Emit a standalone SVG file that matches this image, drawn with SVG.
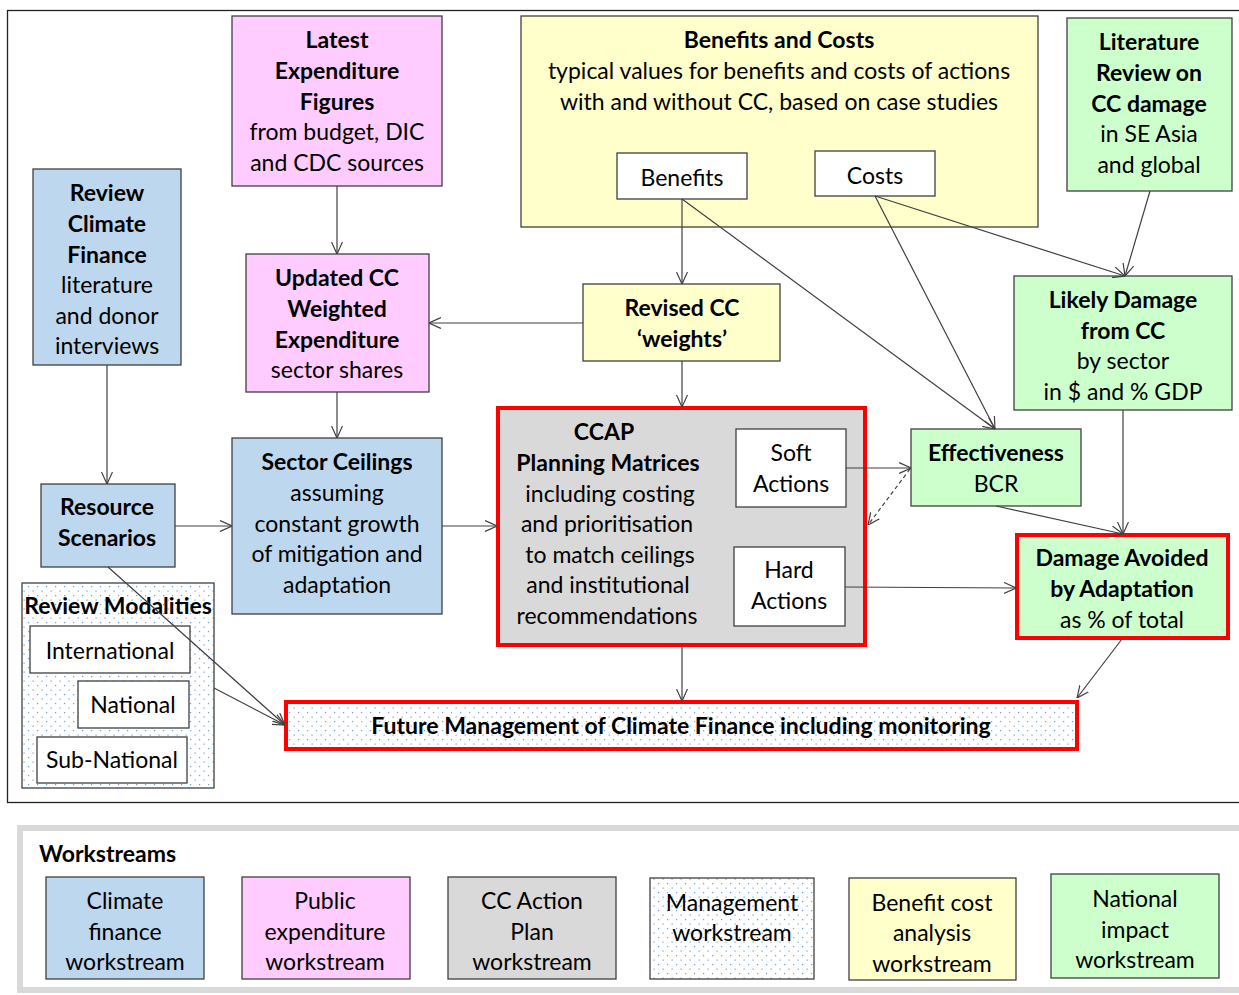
<svg xmlns="http://www.w3.org/2000/svg" width="1239" height="995" viewBox="0 0 1239 995">
<style>
text{font-family:Lato,"Liberation Sans",sans-serif;font-size:23px;fill:#000;text-anchor:middle}
.b{font-weight:bold}
.box{stroke:#404040;stroke-width:1.3}
.pink{fill:#ffccff}.yel{fill:#ffffcc}.grn{fill:#ccffcc}.blu{fill:#bdd7ee}.gry{fill:#d9d9d9}.wht{fill:#fff}.dot{fill:url(#dots)}
.red{stroke:#ff0000;stroke-width:4}
.c{stroke:#404040;stroke-width:1.2;fill:none;marker-end:url(#ah)}
.d{stroke-dasharray:4 3}
</style>
<defs>
<pattern id="dots" width="9" height="9" patternUnits="userSpaceOnUse">
<rect width="9" height="9" fill="#fff"/>
<rect x="1" y="1" width="1.2" height="1.2" fill="#6fa0d8"/>
<rect x="5.5" y="5.5" width="1.2" height="1.2" fill="#6fa0d8"/>
</pattern>
<marker id="ah" viewBox="0 0 12 12" refX="12" refY="6" markerWidth="12" markerHeight="12" markerUnits="userSpaceOnUse" orient="auto">
<path d="M0,0.5 L12,6 L0,11.5" fill="none" stroke="#404040" stroke-width="1.2"/>
</marker>
</defs>
<rect width="1239" height="995" fill="#fff"/>
<rect x="7.5" y="10.5" width="1240" height="792" fill="none" stroke="#222" stroke-width="1.3"/>

<g id="latest">
<rect class="box pink" x="232" y="16" width="210" height="170"/>
<text x="337" y="48" class="b">Latest</text>
<text x="337" y="79" class="b">Expenditure</text>
<text x="337" y="110" class="b">Figures</text>
<text x="337" y="140">from budget, DIC</text>
<text x="337" y="171">and CDC sources</text>
</g>

<g id="benefits-costs">
<rect class="box yel" x="521" y="16" width="517" height="211"/>
<text x="779" y="48" class="b">Benefits and Costs</text>
<text x="779" y="79">typical values for benefits and costs of actions</text>
<text x="779" y="110">with and without CC, based on case studies</text>
</g>
<g id="benefits">
<rect class="box wht" x="617" y="153" width="130" height="46"/>
<text x="682" y="186">Benefits</text>
</g>
<g id="costs">
<rect class="box wht" x="815" y="151" width="120" height="45"/>
<text x="875" y="184">Costs</text>
</g>

<g id="literature">
<rect class="box grn" x="1067" y="18" width="165" height="173"/>
<text x="1149" y="50" class="b">Literature</text>
<text x="1149" y="81" class="b">Review on</text>
<text x="1149" y="112" class="b">CC damage</text>
<text x="1149" y="142">in SE Asia</text>
<text x="1149" y="173">and global</text>
</g>

<g id="review-cf">
<rect class="box blu" x="33" y="169" width="148" height="196"/>
<text x="107" y="201" class="b">Review</text>
<text x="107" y="232" class="b">Climate</text>
<text x="107" y="263" class="b">Finance</text>
<text x="107" y="293">literature</text>
<text x="107" y="324">and donor</text>
<text x="107" y="354">interviews</text>
</g>

<g id="updated">
<rect class="box pink" x="246" y="254" width="183" height="138"/>
<text x="337" y="286" class="b">Updated CC</text>
<text x="337" y="317" class="b">Weighted</text>
<text x="337" y="348" class="b">Expenditure</text>
<text x="337" y="378">sector shares</text>
</g>

<g id="revised">
<rect class="box yel" x="583" y="284" width="197" height="77"/>
<text x="682" y="316" class="b">Revised CC</text>
<text x="682" y="347" class="b">‘weights’</text>
</g>

<g id="likely">
<rect class="box grn" x="1014" y="276" width="218" height="134"/>
<text x="1123" y="308" class="b">Likely Damage</text>
<text x="1123" y="339" class="b">from CC</text>
<text x="1123" y="369">by sector</text>
<text x="1123" y="400">in $ and % GDP</text>
</g>

<g id="resource">
<rect class="box blu" x="41" y="484" width="134" height="83"/>
<text x="107" y="515" class="b">Resource</text>
<text x="107" y="546" class="b">Scenarios</text>
</g>

<g id="sector">
<rect class="box blu" x="232" y="438" width="210" height="176"/>
<text x="337" y="470" class="b">Sector Ceilings</text>
<text x="337" y="501">assuming</text>
<text x="337" y="532">constant growth</text>
<text x="337" y="562">of mitigation and</text>
<text x="337" y="593">adaptation</text>
</g>

<g id="ccap">
<rect class="gry red" x="498" y="408" width="367" height="237"/>
<text x="604" y="440" class="b">CCAP</text>
<text x="608" y="471" class="b">Planning Matrices</text>
<text x="610" y="502">including costing</text>
<text x="607" y="532">and prioritisation</text>
<text x="610" y="563">to match ceilings</text>
<text x="608" y="593">and institutional</text>
<text x="607" y="624">recommendations</text>
</g>
<g id="soft">
<rect class="box wht" x="736" y="429" width="110" height="78"/>
<text x="791" y="461">Soft</text>
<text x="791" y="492">Actions</text>
</g>
<g id="hard">
<rect class="box wht" x="734" y="547" width="111" height="79"/>
<text x="789" y="578">Hard</text>
<text x="789" y="609">Actions</text>
</g>

<g id="effectiveness">
<rect class="box grn" x="911" y="429" width="170" height="77"/>
<text x="996" y="461" class="b">Effectiveness</text>
<text x="996" y="492">BCR</text>
</g>

<g id="damage-avoided">
<rect class="grn red" x="1017" y="535" width="211" height="103"/>
<text x="1122" y="566" class="b">Damage Avoided</text>
<text x="1122" y="597" class="b">by Adaptation</text>
<text x="1122" y="628">as % of total</text>
</g>

<g id="modalities">
<rect class="box dot" x="22" y="583" width="192" height="205"/>
<text x="118" y="614" class="b">Review Modalities</text>
</g>
<g id="international">
<rect class="box wht" x="30" y="626" width="160" height="47"/>
<text x="110" y="659">International</text>
</g>
<g id="national">
<rect class="box wht" x="78" y="681" width="111" height="47"/>
<text x="133" y="713">National</text>
</g>
<g id="subnational">
<rect class="box wht" x="37" y="737" width="150" height="46"/>
<text x="112" y="768">Sub-National</text>
</g>

<g id="future">
<rect class="dot red" x="286" y="702" width="791" height="47"/>
<text x="681" y="734" class="b">Future Management of Climate Finance including monitoring</text>
</g>

<g id="connectors">
<line class="c" x1="337" y1="186" x2="337" y2="254"/>
<line class="c" x1="583" y1="323" x2="429" y2="323"/>
<line class="c" x1="682" y1="199" x2="682" y2="284"/>
<line class="c" x1="682" y1="199" x2="995" y2="429"/>
<line class="c" x1="875" y1="196" x2="995" y2="429"/>
<line class="c" x1="875" y1="196" x2="1125" y2="276"/>
<line class="c" x1="1150" y1="191" x2="1125" y2="276"/>
<line class="c" x1="682" y1="361" x2="682" y2="407"/>
<line class="c" x1="337" y1="392" x2="337" y2="438"/>
<line class="c" x1="107" y1="365" x2="107" y2="484"/>
<line class="c" x1="175" y1="526" x2="232" y2="526"/>
<line class="c" x1="442" y1="526" x2="497" y2="526"/>
<line class="c" x1="846" y1="468" x2="911" y2="468"/>
<line class="c d" x1="910" y1="469" x2="868" y2="525"/>
<line class="c" x1="845" y1="587" x2="1016" y2="588"/>
<line class="c" x1="996" y1="506" x2="1123" y2="534"/>
<line class="c" x1="1123" y1="410" x2="1123" y2="534"/>
<line class="c" x1="1122" y1="639" x2="1077" y2="698"/>
<line class="c" x1="682" y1="646" x2="682" y2="701"/>
<line class="c" x1="108" y1="567" x2="285" y2="725"/>
<line class="c" x1="214" y1="688" x2="285" y2="725"/>
</g>

<g id="legend">
<rect x="20" y="828" width="1230" height="162" fill="#fff" stroke="#d9d9d9" stroke-width="6"/>
<text x="39" y="862" class="b" style="text-anchor:start">Workstreams</text>
</g>
<g id="leg-cf">
<rect class="box blu" x="46" y="877" width="158" height="102"/>
<text x="125" y="909">Climate</text>
<text x="125" y="940">finance</text>
<text x="125" y="970">workstream</text>
</g>
<g id="leg-pe">
<rect class="box pink" x="242" y="877" width="168" height="102"/>
<text x="325" y="909">Public</text>
<text x="325" y="940">expenditure</text>
<text x="325" y="970">workstream</text>
</g>
<g id="leg-cc">
<rect class="box gry" x="448" y="877" width="168" height="102"/>
<text x="532" y="909">CC Action</text>
<text x="532" y="940">Plan</text>
<text x="532" y="970">workstream</text>
</g>
<g id="leg-mg">
<rect class="box dot" x="650" y="878" width="164" height="101"/>
<text x="732" y="911">Management</text>
<text x="732" y="941">workstream</text>
</g>
<g id="leg-bc">
<rect class="box yel" x="849" y="878" width="167" height="102"/>
<text x="932" y="911">Benefit cost</text>
<text x="932" y="941">analysis</text>
<text x="932" y="972">workstream</text>
</g>
<g id="leg-ni">
<rect class="box grn" x="1051" y="874" width="168" height="104"/>
<text x="1135" y="907">National</text>
<text x="1135" y="938">impact</text>
<text x="1135" y="968">workstream</text>
</g>
</svg>
